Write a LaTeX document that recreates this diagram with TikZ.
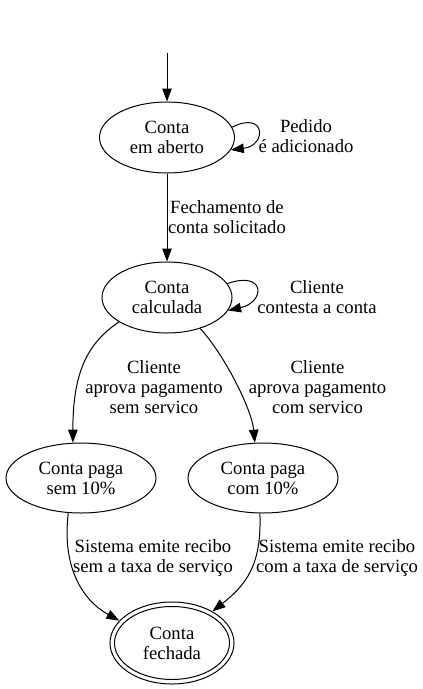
\documentclass[tikz,border=0pt]{standalone}
\usepackage{fontspec}
\setmainfont{Liberation Serif}
\usetikzlibrary{arrows.meta,shapes.geometric,calc}
\begin{document}
\begin{tikzpicture}[x=1pt,y=-1pt,
  every node/.style={font=\fontsize{18.67}{20}\selectfont},
  state/.style={ellipse,draw,line width=1pt,inner sep=0pt,align=center},
  lbl/.style={align=center,inner sep=0pt},
  arr/.style={line width=1pt,-{Triangle[length=13pt,width=9.5pt]}},
]
\useasboundingbox (0,0) rectangle (423,689);
\coordinate (S) at (167,53);
\node[state,minimum width=135pt,minimum height=71pt] (A) at (167,137.5) {Conta\\em aberto};
\node[state,minimum width=130pt,minimum height=71pt] (B) at (167,297.5) {Conta\\calculada};
\node[state,minimum width=150pt,minimum height=70pt] (C) at (81,478) {Conta paga\\sem 10\%};
\node[state,minimum width=150pt,minimum height=70pt] (D) at (263,478) {Conta paga\\com 10\%};
\node[state,minimum width=124pt,minimum height=82pt] (E) at (172,643) {};
\node[state,minimum width=115pt,minimum height=73pt] (Ei) at (E.center) {Conta\\fechada};

\node[lbl] (lA) at (306,136) {Pedido\\é adicionado};
\node[lbl] (lAB) at (227,217) {Fechamento de\\conta solicitado};
\node[lbl] (lB) at (317,297) {Cliente\\contesta a conta};
\node[lbl] (lBC) at (154,387) {Cliente\\aprova pagamento\\sem servico};
\node[lbl] (lBD) at (317.5,387) {Cliente\\aprova pagamento\\com servico};
\node[lbl] (lCE) at (153,558) {Sistema emite recibo\\sem a taxa de serviço};
\node[lbl] (lDE) at (337,558) {Sistema emite recibo\\com a taxa de serviço};

\draw[arr] (S) -- (A);
\draw[arr] (A) -- (B);
\draw[arr] (A.9) .. controls ($(A.9)+(33.5,-17)$) and ($(A.-11)+(36.5,-4.5)$) .. (A.-11);
\draw[arr] (B.13) .. controls ($(B.13)+(38.4,-13.3)$) and ($(B.-12)+(37.4,-8.4)$) .. (B.-12);
\draw[arr] (B.207) .. controls ($(B.207)+(-33,22)$) and ($(C.103)+(0,-68)$) .. (C.103);
\draw[arr] (B.-43) .. controls ($(B.-43)+(24.7,27)$) and ($(D.103)+(-3,-33)$) .. (D.103);
\draw[arr] (C.250) .. controls ($(C.250)+(-6.4,52.5)$) and ($(E.157)+(-38,-21)$) .. (E.157);
\draw[arr] (D.265) .. controls ($(D.265)+(2,52)$) and ($(E.38)+(33.3,-26.5)$) .. (E.38);
\end{tikzpicture}
\end{document}
